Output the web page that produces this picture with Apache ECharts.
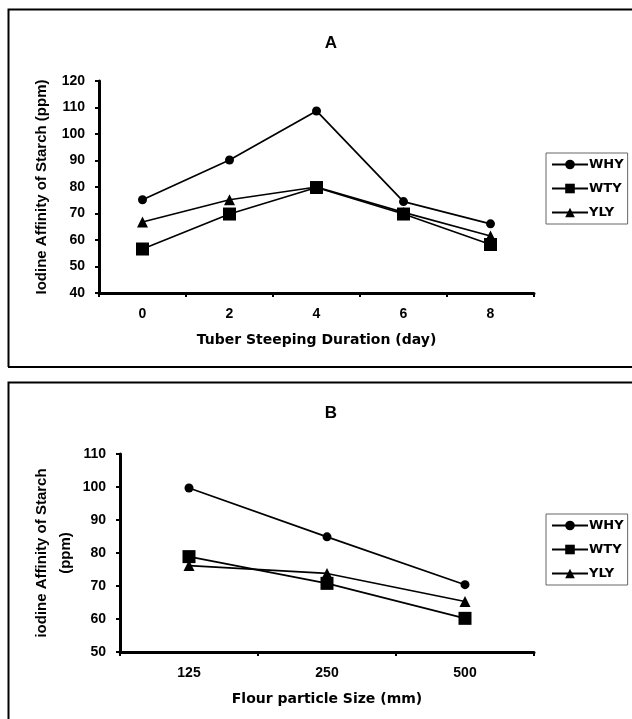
<!DOCTYPE html>
<html>
<head>
<meta charset="utf-8">
<script src="https://cdn.jsdelivr.net/npm/echarts@6/dist/echarts.min.js"></script>
<style>
html,body{margin:0;padding:0;background:#fff;}
#chart{width:632px;height:719px;}
</style>
</head>
<body>
<div id="chart"></div>
<script>
// Panel A data
const catsA = ['0', '2', '4', '6', '8'];
const whyA = [75.2, 90.2, 108.7, 74.5, 66.1];
const wtyA = [56.6, 69.8, 79.8, 69.8, 58.3];
const ylyA = [66.8, 75.2, 80.0, 70.4, 61.5];
// Panel B data
const catsB = ['125', '250', '500'];
const whyB = [99.7, 84.9, 70.4];
const wtyB = [78.9, 70.8, 60.2];
const ylyB = [76.2, 73.8, 65.3];
const seriesNames = ['WHY', 'WTY', 'YLY'];

const FONT = 'Liberation Sans, Arial, sans-serif';
const WIDE = 'DejaVu Sans, sans-serif';
const chart = echarts.init(document.getElementById('chart'), null, {renderer: 'canvas'});

function yAxis(gi, min, max, name, gap, lh) {
  return {
    type: 'value', gridIndex: gi, min: min, max: max, interval: 10,
    name: name, nameLocation: 'middle', nameGap: gap, nameMoveOverlap: false,
    nameTextStyle: {fontFamily: FONT, fontWeight: 'bold', fontSize: 15, color: '#000', lineHeight: lh},
    axisLine: {show: true, lineStyle: {color: '#000', width: 3}},
    axisTick: {show: true, inside: false, length: 4, lineStyle: {color: '#000', width: 2}},
    axisLabel: {fontFamily: FONT, fontWeight: 'bold', fontSize: 14, color: '#000', margin: 14},
    splitLine: {show: false}
  };
}
function xAxis(gi, cats, name) {
  return {
    type: 'category', gridIndex: gi, data: cats, boundaryGap: true,
    name: name, nameLocation: 'middle', nameGap: 40, nameMoveOverlap: false,
    nameTextStyle: {fontFamily: WIDE, fontWeight: 'bold', fontSize: 14, color: '#000'},
    axisLine: {show: true, lineStyle: {color: '#000', width: 3}},
    axisTick: {show: true, inside: false, length: 4, alignWithLabel: false, lineStyle: {color: '#000', width: 2}},
    axisLabel: {fontFamily: FONT, fontWeight: 'bold', fontSize: 14, color: '#000', margin: 14},
    splitLine: {show: false}
  };
}
const styles = [
  {symbol: 'circle', symbolSize: 9},
  {symbol: 'rect', symbolSize: 13},
  {symbol: 'triangle', symbolSize: 11}
];
function mkSeries(gi, arrs) {
  return arrs.map((d, i) => ({
    name: seriesNames[i], type: 'line', xAxisIndex: gi, yAxisIndex: gi, data: d,
    symbol: styles[i].symbol, symbolSize: styles[i].symbolSize,
    itemStyle: {color: '#000'}, lineStyle: {color: '#000', width: 1.7},
    z: 3 - i + 2
  }));
}
function legend(top) {
  return {
    data: seriesNames, orient: 'vertical', left: 546, top: top,
    itemWidth: 36, itemHeight: 12, itemGap: 11, padding: [5, 4, 5, 5],
    borderColor: '#666', borderWidth: 1, backgroundColor: '#fff',
    selectedMode: false,
    textStyle: {fontFamily: WIDE, fontWeight: 'bold', fontSize: 13, lineHeight: 12, color: '#000', padding: [0, 0, 0, -4]}
  };
}

chart.setOption({
  animation: false,
  backgroundColor: '#fff',
  title: [
    {text: 'A', left: 326, top: 30, textAlign: 'center', textStyle: {fontFamily: FONT, fontWeight: 'bold', fontSize: 17, color: '#000'}},
    {text: 'B', left: 326, top: 400, textAlign: 'center', textStyle: {fontFamily: FONT, fontWeight: 'bold', fontSize: 17, color: '#000'}}
  ],
  grid: [
    {left: 99, top: 81, width: 435, height: 212},
    {left: 120, top: 454, width: 414, height: 198}
  ],
  xAxis: [xAxis(0, catsA, 'Tuber Steeping Duration (day)'), xAxis(1, catsB, 'Flour particle Size (mm)')],
  yAxis: [yAxis(0, 40, 120, 'Iodine Affinity of Starch (ppm)', 50, 15), yAxis(1, 50, 110, 'iodine Affinity of Starch\n(ppm)', 42, 24)],
  legend: [legend(153), legend(514)],
  series: [].concat(mkSeries(0, [whyA, wtyA, ylyA]), mkSeries(1, [whyB, wtyB, ylyB])),
  graphic: [
    {type: 'polyline', shape: {points: [[8.5, 367], [8.5, 9.5], [632, 9.5]]}, style: {stroke: '#000', lineWidth: 2, fill: null}},
    {type: 'line', shape: {x1: 8, y1: 367, x2: 632, y2: 367}, style: {stroke: '#000', lineWidth: 2}},
    {type: 'polyline', shape: {points: [[8.5, 719], [8.5, 382.5], [632, 382.5]]}, style: {stroke: '#000', lineWidth: 2, fill: null}}
  ]
});
</script>
</body>
</html>
